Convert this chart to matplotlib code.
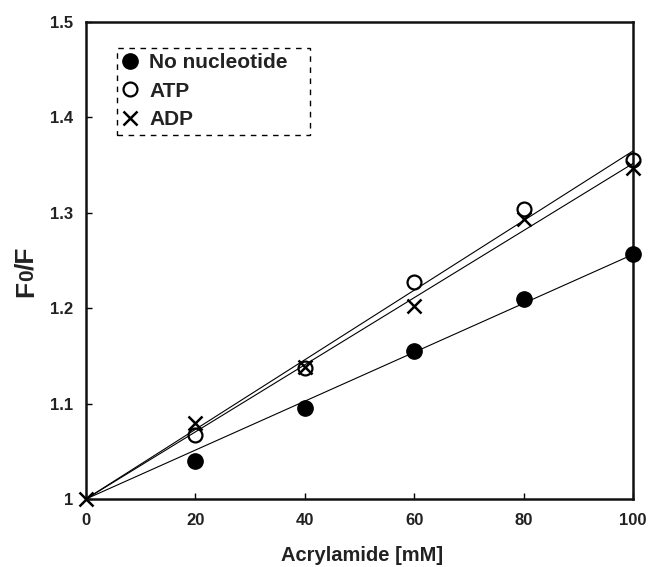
import numpy as np
import matplotlib
matplotlib.use("Agg")
import matplotlib.pyplot as plt

conc = [0, 20, 40, 60, 80, 100]
no_nucleotide = [1.0, 1.04, 1.095, 1.155, 1.21, 1.257]
atp = [1.0, 1.067, 1.137, 1.227, 1.304, 1.355]
adp = [1.0, 1.08, 1.138, 1.202, 1.293, 1.347]
series_labels = ["No nucleotide", "ATP", "ADP"]
xticks = [0, 20, 40, 60, 80, 100]
yticks = [1.0, 1.1, 1.2, 1.3, 1.4, 1.5]
ytick_labels = ["1", "1.1", "1.2", "1.3", "1.4", "1.5"]
xlabel = "Acrylamide [mM]"
ylabel_parts = ["F", "0", "/F"]

plt.rcParams['font.family'] = ["Liberation Sans", "DejaVu Sans"]
plt.rcParams['font.weight'] = 'bold'

W, H = 649, 567
fig = plt.figure(figsize=(W/100, H/100), dpi=100)
L, R, T, B = 86, 633, 22, 499
ax = fig.add_axes([L/W, 1-B/H, (R-L)/W, (B-T)/H])

x = np.array(conc, dtype=float)
def fit(y):
    y = np.array(y)
    s = np.sum(x*(y-1))/np.sum(x*x)
    return 1 + s*x

for ser in (no_nucleotide, atp, adp):
    ax.plot(x, fit(ser), color='black', lw=0.8, zorder=3)

# the shared origin point is shown only by the cross in the original
ax.plot(conc[1:], no_nucleotide[1:], 'o', color='black', ms=11, ls='none', clip_on=False,
        label=series_labels[0], zorder=5)
ax.plot(conc[1:], atp[1:], 'o', mfc='none', mec='black', mew=1.6, ms=10, ls='none', clip_on=False,
        label=series_labels[1], zorder=5)
ax.plot(conc, adp, 'x', color='black', mew=1.8, ms=10, ls='none', clip_on=False,
        label=series_labels[2], zorder=6)

ax.set_xlim(0, 100)
ax.set_ylim(1.0, 1.5)
ax.set_xticks(xticks)
ax.set_xticklabels([str(t) for t in xticks], fontsize=12, fontweight='bold', color='#222222')
ax.set_yticks(yticks)
ax.set_yticklabels(ytick_labels, fontsize=12, fontweight='bold', color='#222222')
ax.tick_params(direction='in', length=4, width=1)
ax.tick_params(axis='x', pad=10)
ax.tick_params(axis='y', pad=9)
for sp in ax.spines.values():
    sp.set_linewidth(1.8)
    sp.set_color('#111111')

fig.text(362/W, (H-561)/H, xlabel, fontsize=14.5, fontweight='bold', ha='center', va='baseline',
         color='#222222')

# y label assembled from parts (smaller "0" on the baseline)
renderer = fig.canvas.get_renderer()
sizes = [19, 15, 19]
bx, by = 33/W, (H-297)/H
pos = by
for part, fs in zip(ylabel_parts, sizes):
    t = fig.text(bx, pos, part, fontsize=fs, fontweight='bold', rotation=90,
                 rotation_mode='anchor', ha='left', va='baseline', color='#222222')
    ext = t.get_window_extent(renderer)
    pos += ext.height/H - 0.5/H

ax_w = R-L; ax_h = B-T
lx0 = (117-L)/ax_w
lw = (310-117)/ax_w
ltop = (B-48)/ax_h
leg = ax.legend(loc='upper left', bbox_to_anchor=(lx0, ltop-0.3, lw, 0.3), mode='expand',
                borderaxespad=0, fancybox=False, edgecolor='black', framealpha=1,
                handletextpad=0.6, handlelength=0.7, borderpad=0.25, labelspacing=0.46,
                prop={'size': 15, 'weight': 'bold'})
fr = leg.get_frame()
fr.set_linestyle((0, (4, 4)))
fr.set_linewidth(1.0)
for t in leg.get_texts():
    t.set_color('#222222')

fig.savefig("out.png", dpi=100)
